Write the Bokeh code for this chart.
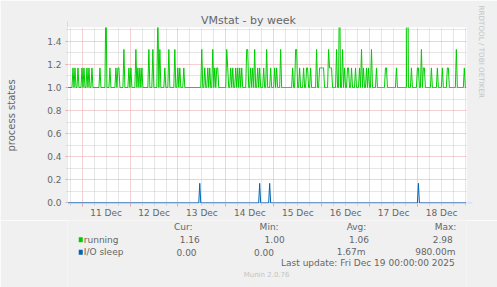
import math
import pandas as pd
from bokeh.plotting import figure
from bokeh.layouts import column
from bokeh.models import (Range1d, LinearAxis, FixedTicker, Grid, Label, Arrow,
                          NormalHead, ColumnDataSource, Title)
from bokeh.embed import file_html
from bokeh.resources import INLINE

# ---------------- data ----------------
view_start = "2025-12-10 16:40"
view_end = "2025-12-19 00:30"
sample_start = "2025-12-10 16:55"   # 30-minute samples
sample_step_minutes = 30
n_samples = 400

running_base = 1.0
running_spike_idx = [5, 7, 10, 14, 16, 19, 21, 24, 32, 38, 42, 48, 50, 51, 56, 61, 63, 68, 70, 72,
                     74, 81, 85, 90, 92, 97, 101, 107, 110, 112, 116, 134, 137, 140, 142, 145, 147,
                     149, 150, 159, 160, 163, 165, 168, 170, 172, 174, 179, 180, 183, 185, 187, 190,
                     192, 196, 199, 203, 207, 209, 213, 225, 228, 229, 232, 236, 239, 240, 243, 249,
                     252, 253, 254, 255, 256, 261, 262, 263, 264, 269, 272, 275, 277, 280, 281, 284,
                     288, 292, 294, 296, 299, 301, 304, 309, 318, 319, 329, 340, 344, 350, 351, 354,
                     356, 357, 364, 370, 375, 380, 381, 389, 397]
running_spike_val = [1.17, 1.17, 1.17, 1.17, 1.17, 1.17, 1.17, 1.17, 1.17, 1.83, 1.17, 1.17, 1.17, 1.17,
                     1.33, 1.17, 1.17, 1.33, 1.17, 1.17, 1.17, 1.33, 1.33, 1.67, 1.33, 1.17, 1.33, 1.33,
                     1.17, 1.17, 1.17, 1.33, 1.17, 1.17, 1.17, 1.33, 1.17, 1.17, 1.17, 1.33, 1.17, 1.17,
                     1.17, 1.17, 1.17, 1.17, 1.17, 1.33, 1.33, 1.17, 1.17, 1.33, 1.17, 1.17, 1.17, 1.33,
                     1.17, 1.17, 1.17, 1.33, 1.17, 1.33, 1.33, 1.17, 1.17, 1.17, 1.17, 1.17, 1.33, 1.17,
                     1.17, 1.17, 1.17, 1.17, 1.33, 1.17, 1.17, 1.17, 1.33, 2.0, 1.33, 1.17, 1.17, 1.17,
                     1.17, 1.17, 1.17, 1.33, 1.17, 1.17, 1.17, 1.33, 1.17, 1.17, 1.17, 1.17, 2.98, 1.17,
                     1.17, 1.17, 1.33, 1.17, 1.17, 1.17, 1.17, 1.17, 1.17, 1.17, 1.33, 1.17]

io_base = 0.0
io_spike_idx = [132, 192, 202, 351]
io_spike_val = [0.17, 0.17, 0.17, 0.17]

day_ticks = ["2025-12-11", "2025-12-12", "2025-12-13", "2025-12-14",
             "2025-12-15", "2025-12-16", "2025-12-17", "2025-12-18"]
day_labels = ["11 Dec", "12 Dec", "13 Dec", "14 Dec", "15 Dec", "16 Dec", "17 Dec", "18 Dec"]
y_ticks = [0.0, 0.2, 0.4, 0.6, 0.8, 1.0, 1.2, 1.4]
y_tick_labels = ["0.0", "0.2", "0.4", "0.6", "0.8", "1.0", "1.2", "1.4"]
y_minor = [0.1, 0.3, 0.5, 0.7, 0.9, 1.1, 1.3, 1.5]

series_names = ["running", "I/O sleep"]
series_colors = ["#00CC00", "#0066B3"]
stat_headers = ["Cur:", "Min:", "Avg:", "Max:"]
running_stats = ["1.16", "1.00", "1.06", "2.98"]
io_stats = ["0.00", "0.00", "1.67m", "980.00m"]
last_update = "Last update: Fri Dec 19 00:00:00 2025"
title_text = "VMstat - by week"
y_label = "process states"
footer = "Munin 2.0.76"
watermark = "RRDTOOL / TOBI OETIKER"

# ---------------- build series ----------------
def ms(s):
    return pd.Timestamp(s).value / 1e6

t0 = ms(sample_start)
step = sample_step_minutes * 60 * 1000
times = [t0 + i * step for i in range(n_samples)]
running = [running_base] * n_samples
for i, v in zip(running_spike_idx, running_spike_val):
    running[i] = v
io = [io_base] * n_samples
for i, v in zip(io_spike_idx, io_spike_val):
    io[i] = v

src = ColumnDataSource(dict(t=times, running=running, io=io))

xs, xe = ms(view_start), ms(view_end)
px = (xe - xs) / 400.0  # ms per pixel

FONT = "DejaVu Sans"
FC = "#666666"
AXC = "#CFD6F8"
MAJ = "#EBA5A5"
MIN = "#CCCCCC"
BG = "#F0F0F0"
WMC = "#C4C4C4"

# ---------------- main chart ----------------
p = figure(width=497, height=220, output_backend="svg", toolbar_location=None,
           x_range=Range1d(xs, xe), y_range=Range1d(-0.005, 1.52),
           x_axis_type=None, y_axis_type=None,
           min_border_left=67, min_border_right=30, min_border_top=27, min_border_bottom=16)
p.border_fill_color = BG
p.background_fill_color = "#FFFFFF"
p.outline_line_color = None

p.title.text = title_text
p.title.align = "left"
p.title.offset = 133.5
p.title.standoff = 2
p.title.text_font = FONT
p.title.text_font_size = "11px"
p.title.text_font_style = "normal"
p.title.text_color = FC

# vertical watermark in the right border
p.add_layout(Title(text=watermark, align="left", offset=-22, standoff=20,
                   vertical_align="bottom", text_font=FONT, text_font_size="7.2px",
                   text_font_style="normal", text_color=WMC), "right")

midnights = [ms(d) for d in day_ticks]
noons = [m + 12 * 3600 * 1000 for m in midnights]
six = 6 * 3600 * 1000
minors = []
t = ms("2025-12-10 18:00")
while t < xe:
    if t not in midnights:
        minors.append(t)
    t += six

# grids
p.add_layout(Grid(dimension=0, ticker=FixedTicker(ticks=midnights, minor_ticks=minors),
                  grid_line_color=MAJ, grid_line_dash="1 1", grid_line_width=1,
                  minor_grid_line_color=MIN, minor_grid_line_dash="1 1"))
p.add_layout(Grid(dimension=1, ticker=FixedTicker(ticks=y_ticks, minor_ticks=y_minor),
                  grid_line_color=MAJ, grid_line_dash="1 1", grid_line_width=1,
                  minor_grid_line_color=MIN, minor_grid_line_dash="1 1"))

# axes
yax = LinearAxis(ticker=FixedTicker(ticks=y_ticks, minor_ticks=y_minor),
                 major_label_overrides=dict(zip(y_ticks, y_tick_labels)),
                 axis_line_color=None, major_tick_line_color=MAJ, major_tick_out=2, major_tick_in=0,
                 minor_tick_line_color=MIN, minor_tick_out=1, minor_tick_in=0,
                 major_label_standoff=4, major_label_text_font=FONT,
                 major_label_text_font_size="9px", major_label_text_color=FC,
                 axis_label=y_label, axis_label_text_font=FONT, axis_label_text_font_size="10px",
                 axis_label_text_font_style="normal", axis_label_text_color=FC,
                 axis_label_standoff=27)
p.add_layout(yax, "left")

xticks_ax = LinearAxis(ticker=FixedTicker(ticks=midnights, minor_ticks=minors),
                       major_label_overrides={m: "" for m in midnights},
                       axis_line_color=None, major_tick_line_color=MAJ, major_tick_out=3, major_tick_in=0,
                       minor_tick_line_color=MIN, minor_tick_out=2, minor_tick_in=0,
                       major_label_standoff=0, major_label_text_font_size="0px")
p.add_layout(xticks_ax, "below")

xlab_ax = LinearAxis(ticker=FixedTicker(ticks=noons, minor_ticks=[]),
                     major_label_overrides=dict(zip(noons, day_labels)),
                     axis_line_color=None, major_tick_line_color=None, major_tick_out=0, major_tick_in=0,
                     minor_tick_line_color=None, major_label_standoff=1,
                     major_label_text_font=FONT, major_label_text_font_size="9px",
                     major_label_text_color=FC)
p.add_layout(xlab_ax, "below")

# axis lines with arrows
xa = Arrow(end=NormalHead(size=5, fill_color=AXC, line_color=AXC),
           x_start=xs - 3 * px, y_start=0.0, x_end=xe + 6 * px, y_end=0.0,
           line_color=AXC, line_width=1, level="underlay")
ya = Arrow(end=NormalHead(size=5, fill_color=AXC, line_color=AXC),
           x_start=xs, y_start=-0.025, x_end=xs, y_end=1.57,
           line_color=AXC, line_width=1, level="underlay")
p.add_layout(xa)
p.add_layout(ya)

# data lines
p.line("t", "running", source=src, line_color=series_colors[0], line_width=1)
p.line("t", "io", source=src, line_color=series_colors[1], line_width=1)

# ---------------- legend / footer panel (canvas pixel coordinates) ----------------
lg = figure(width=497, height=67, output_backend="svg", toolbar_location=None,
            x_range=Range1d(0, 497), y_range=Range1d(287, 220),
            x_axis_type=None, y_axis_type=None, min_border=0)
lg.border_fill_color = BG
lg.background_fill_color = BG
lg.outline_line_color = None

def lab(x, y, text, align="left", size="9px", color=FC):
    lg.add_layout(Label(x=x, y=y, text=text, text_align=align, text_baseline="middle",
                        text_font=FONT, text_font_size=size, text_color=color))

for x, h in zip([132.7, 239.3, 347.7, 457.3], stat_headers):
    lab(x, 226.7, h)

for row_y, name, color, stats, rights in [
        (239.3, series_names[0], series_colors[0], running_stats, [164.8, 270.5, 375.5, 479.8]),
        (251.7, series_names[1], series_colors[1], io_stats, [160.8, 257.2, 371.2, 483.2])]:
    lg.quad(left=[14], right=[19], top=[row_y - 2.5], bottom=[row_y + 2.5],
            fill_color=color, line_color=None)
    lab(20.3, row_y, name)
    for r, s in zip(rights, stats):
        lab(r, row_y, s, "right")

lab(482.2, 262.7, last_update, "right")
lab(248, 274, footer, "center", "7px", WMC)

layout = column(p, lg, spacing=0)
open("out.html", "w").write(file_html(layout, INLINE))
